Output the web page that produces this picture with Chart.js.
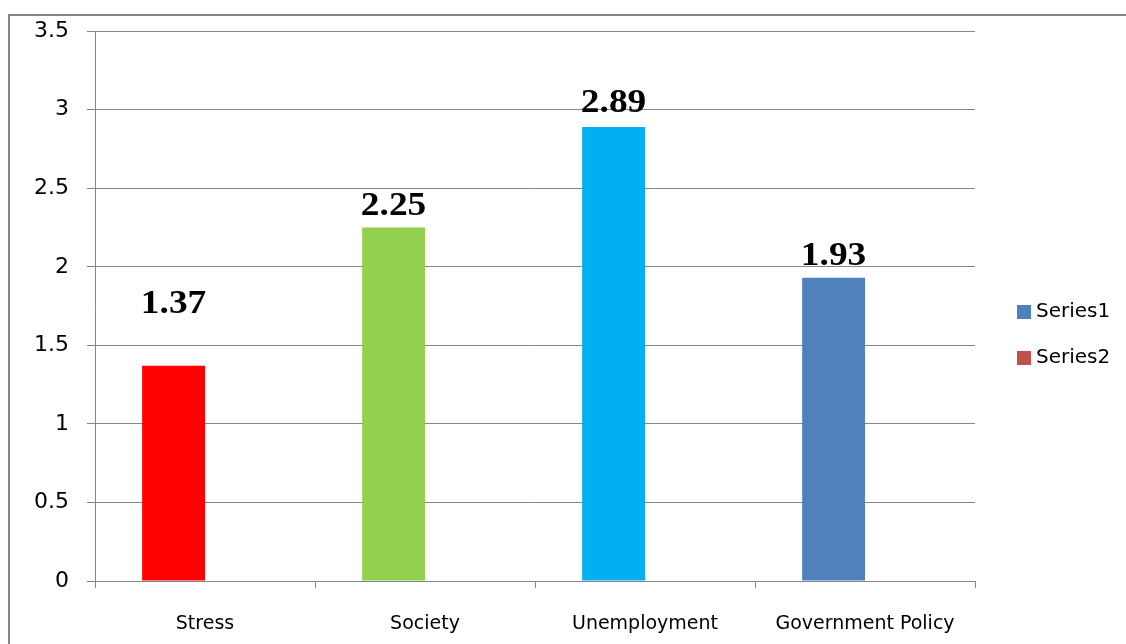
<!DOCTYPE html>
<html>
<head>
<meta charset="utf-8">
<script src="https://cdn.jsdelivr.net/npm/chart.js@4"></script>
<style>
    html, body { margin: 0; padding: 0; background: #fff; overflow: hidden; }
    #wrap { position: relative; width: 1126px; height: 644px; }
    #frame {
        position: absolute; left: 8px; top: 14px; width: 1200px; height: 700px;
        border-left: 2px solid #878787; border-top: 2px solid #878787;
    }
    #chart { position: absolute; left: 0; top: 0; }
    #legend { position: absolute; left: 1017px; top: 298px; font: 20px "DejaVu Sans", sans-serif; color: #000; }
    #legend .item { height: 46px; display: flex; align-items: flex-start; }
    #legend .box { width: 14px; height: 14px; margin-top: 7px; margin-right: 5px; }
</style>
</head>
<body>
<div id="wrap">
    <div id="frame"></div>
    <canvas id="chart" width="1126" height="644"></canvas>
    <div id="legend"></div>
</div>
<script>
const categorias = ['Stress', 'Society', 'Unemployment', 'Government Policy'];
const serie1 = [1.37, 2.25, 2.89, 1.93];
const serie2 = [null, null, null, null];
const yTickLabels = ['0', '0.5', '1', '1.5', '2', '2.5', '3', '3.5'];

const coresBarras = ['#FF0000', '#92D050', '#00B0F0', '#4F81BD'];
const corSerie1 = '#4F81BD';
const corSerie2 = '#C0504D';
// distancia do rotulo acima da barra (px)
const elevacaoRotulo = [62, 21, 24, 22];

const rotulosPlugin = {
    id: 'rotulos',
    afterDatasetsDraw(chart) {
        const ctx = chart.ctx;
        const meta = chart.getDatasetMeta(0);
        meta.data.forEach(function (barra, i) {
            ctx.save();
            ctx.translate(barra.x, barra.y - elevacaoRotulo[i]);
            ctx.scale(1.1, 1);
            ctx.font = 'bold 34px "Liberation Serif", "Times New Roman", serif';
            ctx.fillStyle = '#000';
            ctx.textAlign = 'center';
            ctx.textBaseline = 'middle';
            ctx.fillText(serie1[i].toFixed(2), 0, 0);
            ctx.restore();
        });
    }
};

const grafico = document.getElementById('chart').getContext('2d');

const meuGrafico = new Chart(grafico, {
    type: 'bar',
    data: {
        labels: categorias,
        datasets: [
            { label: 'Series1', data: serie1, backgroundColor: coresBarras },
            { label: 'Series2', data: serie2, backgroundColor: corSerie2 }
        ]
    },
    options: {
        responsive: false,
        animation: false,
        categoryPercentage: 0.5714,
        barPercentage: 1.0,
        layout: { padding: { left: 0, top: 30, right: 151, bottom: 0 } },
        plugins: {
            legend: { display: false },
            tooltip: { enabled: false }
        },
        scales: {
            x: {
                grid: { drawOnChartArea: false, tickLength: 7, color: '#868686' },
                border: { color: '#868686' },
                ticks: {
                    color: '#000',
                    padding: 25,
                    maxRotation: 0,
                    font: { family: '"DejaVu Sans", sans-serif', size: 19 }
                },
                afterFit: function (scale) { scale.height = 63; }
            },
            y: {
                min: 0,
                max: 3.5,
                grid: { color: '#868686', tickLength: 8 },
                border: { color: '#868686' },
                ticks: {
                    stepSize: 0.5,
                    color: '#000',
                    padding: 18,
                    font: { family: '"DejaVu Sans", sans-serif', size: 22 },
                    callback: function (value, index) { return yTickLabels[index]; }
                },
                afterFit: function (scale) { scale.width = 95; }
            }
        }
    },
    plugins: [rotulosPlugin]
});

const legenda = document.getElementById('legend');
[{ nome: 'Series1', cor: corSerie1 }, { nome: 'Series2', cor: corSerie2 }].forEach(function (item) {
    const linha = document.createElement('div');
    linha.className = 'item';
    const caixa = document.createElement('span');
    caixa.className = 'box';
    caixa.style.background = item.cor;
    const texto = document.createElement('span');
    texto.textContent = item.nome;
    linha.appendChild(caixa);
    linha.appendChild(texto);
    legenda.appendChild(linha);
});
</script>
</body>
</html>
